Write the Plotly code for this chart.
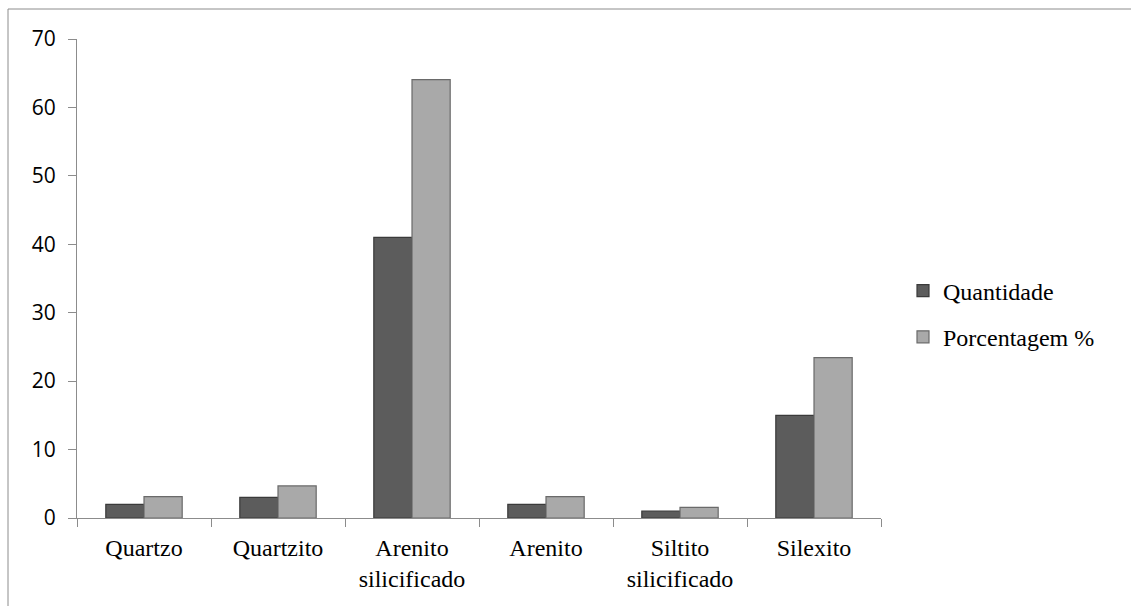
import plotly.graph_objects as go

categories = ["Quartzo", "Quartzito", "Arenito<br>silicificado", "Arenito",
              "Siltito<br>silicificado", "Silexito"]
quantidade = [2, 3, 41, 2, 1, 15]
porcentagem = [3.125, 4.6875, 64.0625, 3.125, 1.5625, 23.4375]
y_ticks = [0, 10, 20, 30, 40, 50, 60, 70]

fig = go.Figure()
fig.add_trace(go.Bar(
    x=categories, y=quantidade, name="Quantidade", legendgroup="q",
    marker=dict(color="#5c5c5c", line=dict(color="#3a3a3a", width=1.2)),
))
fig.add_trace(go.Bar(
    x=categories, y=porcentagem, name="Porcentagem %", legendgroup="p",
    marker=dict(color="#a9a9a9", line=dict(color="#6a6a6a", width=1.2)),
))

W, H = 1131, 606
ml, mr, mt, mb = 77, 250, 39, 88
pw, ph = W - ml - mr, H - mt - mb

# outer chart frame (extends beyond the visible area on right/bottom)
fig.add_shape(type="rect", xref="paper", yref="paper",
              x0=(8 - ml) / pw, x1=(W + 20 - ml) / pw,
              y0=-(H + 20 - mt - ph) / ph, y1=(H - mb - 9) / ph,
              line=dict(color="#8c8c8c", width=1), fillcolor="rgba(0,0,0,0)",
              layer="below")

fig.update_layout(
    width=W, height=H,
    margin=dict(l=ml, r=mr, t=mt, b=mb, pad=0),
    paper_bgcolor="white", plot_bgcolor="white",
    barmode="group", bargap=0.43, bargroupgap=0,
    showlegend=True,
    legend=dict(x=(903 - ml) / pw, xanchor="left", y=(H - mb - 314) / ph,
                yanchor="middle", font=dict(family="Liberation Serif", size=24, color="black"),
                tracegroupgap=12, traceorder="grouped",
                itemwidth=30, bgcolor="rgba(0,0,0,0)"),
    xaxis=dict(
        type="category", tickson="boundaries", ticks="outside", ticklen=8,
        tickcolor="#8c8c8c", showline=True, linecolor="#8c8c8c", linewidth=1,
        showgrid=False, tickfont=dict(family="Liberation Serif", size=24, color="black"),
        ticklabelstandoff=8, fixedrange=True,
    ),
    yaxis=dict(
        range=[0, 70], tickvals=y_ticks, ticks="outside", ticklen=8,
        tickcolor="#8c8c8c", showline=True, linecolor="#8c8c8c", linewidth=1,
        showgrid=False, zeroline=False,
        tickfont=dict(family="Open Sans", size=21, color="black"),
        ticklabelstandoff=8, fixedrange=True,
    ),
)

fig.write_html("out.html")
